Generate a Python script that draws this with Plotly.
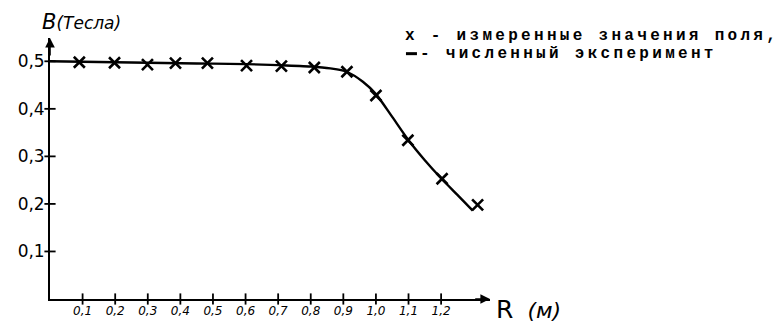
import plotly.graph_objects as go

# measured field values (markers)
r_meas = [0.09, 0.198, 0.299, 0.385, 0.483, 0.603, 0.710, 0.811, 0.911, 1.0, 1.098, 1.203, 1.312]
b_meas = [0.498, 0.497, 0.493, 0.496, 0.496, 0.491, 0.490, 0.487, 0.478, 0.428, 0.334, 0.253, 0.198]

# numerical experiment (curve)
r_calc = [0.0, 0.1, 0.2, 0.3, 0.4, 0.5, 0.6, 0.7, 0.8, 0.86, 0.91, 0.96, 1.0, 1.05, 1.1, 1.15, 1.2, 1.25, 1.297]
b_calc = [0.500, 0.499, 0.498, 0.497, 0.496, 0.495, 0.494, 0.492, 0.489, 0.485, 0.478, 0.457, 0.431, 0.383, 0.334, 0.292, 0.254, 0.219, 0.186]

x_tickvals = [0.1, 0.2, 0.3, 0.4, 0.5, 0.6, 0.7, 0.8, 0.9, 1.0, 1.1, 1.2]
x_ticktext = ["0,1", "0,2", "0,3", "0,4", "0,5", "0,6", "0,7", "0,8", "0,9", "1,0", "1,1", "1,2"]
y_tickvals = [0.1, 0.2, 0.3, 0.4, 0.5]
y_ticktext = ["0,1", "0,2", "0,3", "0,4", "0,5"]

X_MAX = 1.35
Y_MAX = 0.549

fig = go.Figure()

# hand-drawn style crossing ticks
fig.add_trace(go.Scatter(x=x_tickvals, y=[0] * len(x_tickvals), mode="markers",
                         marker=dict(symbol="line-ns", size=8, line=dict(width=1.8, color="black")),
                         cliponaxis=False, hoverinfo="skip", showlegend=False))
fig.add_trace(go.Scatter(x=[0] * len(y_tickvals), y=y_tickvals, mode="markers",
                         marker=dict(symbol="line-ew", size=8, line=dict(width=1.8, color="black")),
                         cliponaxis=False, hoverinfo="skip", showlegend=False))

fig.add_trace(go.Scatter(x=r_calc, y=b_calc, mode="lines",
                         line=dict(color="black", width=2.4, shape="spline", smoothing=0.8),
                         cliponaxis=False, showlegend=False))
fig.add_trace(go.Scatter(x=r_meas, y=b_meas, mode="markers",
                         marker=dict(symbol="x-thin", size=11, line=dict(width=2.6, color="black")),
                         cliponaxis=False, showlegend=False))

tick_font = dict(family="DejaVu Sans", color="black")

fig.update_layout(
    width=784, height=330,
    margin=dict(l=50, r=294, t=38, b=25),
    paper_bgcolor="white", plot_bgcolor="white",
    xaxis=dict(range=[0, X_MAX], showgrid=False, zeroline=False, showline=True,
               linecolor="black", linewidth=1.8, ticks="",
               tickvals=x_tickvals, ticktext=x_ticktext,
               tickfont=dict(size=12, style="italic", **tick_font), ticklabelstandoff=0),
    yaxis=dict(range=[0, Y_MAX], showgrid=False, zeroline=False, showline=True,
               linecolor="black", linewidth=1.8, ticks="",
               tickvals=y_tickvals, ticktext=y_ticktext,
               tickfont=dict(size=17, **tick_font), ticklabelstandoff=0),
)

# axis arrows
fig.add_annotation(x=X_MAX, y=0, ax=X_MAX - 0.05, ay=0, xref="x", yref="y", axref="x", ayref="y",
                   showarrow=True, arrowhead=2, arrowsize=1.2, arrowwidth=1.6, arrowcolor="black", text="")
fig.add_annotation(x=0, y=Y_MAX, ax=0, ay=Y_MAX - 0.04, xref="x", yref="y", axref="x", ayref="y",
                   showarrow=True, arrowhead=2, arrowsize=1.2, arrowwidth=1.6, arrowcolor="black", text="")

# axis titles
fig.add_annotation(xref="paper", yref="paper", x=-0.023, y=1.06, xanchor="left", yanchor="middle",
                   showarrow=False,
                   text="<i><span style='font-size:21px'>B</span>(Тесла)</i>",
                   font=dict(family="DejaVu Sans", size=17, color="black"))
fig.add_annotation(xref="paper", yref="paper", x=1.01, y=-0.04, xanchor="left", yanchor="middle",
                   showarrow=False,
                   text="<span style='font-size:25px'>R</span>  <i>(м)</i>",
                   font=dict(family="DejaVu Sans", size=22, color="black"))

# legend text (typewriter)
mono = dict(family="Liberation Mono", size=16, color="black", weight="bold")
fig.add_annotation(xref="paper", yref="paper", x=0.802, y=1.0075, xanchor="left", yanchor="middle",
                   showarrow=False,
                   text="<span style='letter-spacing:3.3px'>х - измеренные значения поля,</span>",
                   font=mono)
fig.add_annotation(xref="paper", yref="paper", x=0.836, y=0.94, xanchor="left", yanchor="middle",
                   showarrow=False,
                   text="<span style='letter-spacing:3.3px'>- численный эксперимент</span>",
                   font=mono)
fig.add_shape(type="line", xref="paper", yref="paper", x0=0.809, x1=0.834, y0=0.94, y1=0.94,
              line=dict(color="black", width=3))

fig.write_html("out.html", post_script="document.body.style.margin='0px';",
               config={"displayModeBar": False})
